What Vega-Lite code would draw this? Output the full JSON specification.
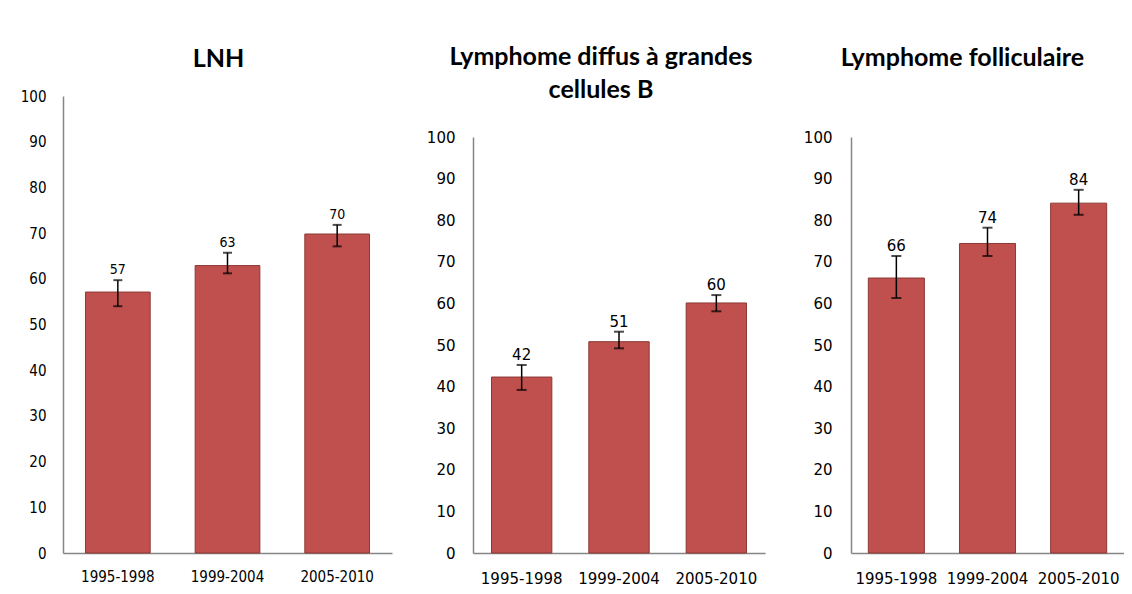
{
  "$schema": "https://vega.github.io/schema/vega-lite/v6.json",
  "padding": {"left": 13, "top": 45, "right": 0, "bottom": 0},
  "background": "white",
  "spacing": 0,
  "center": true,
  "config": {
    "view": {"stroke": null},
    "axis": {"grid": false, "ticks": false, "title": null, "domainColor": "#868686", "domainWidth": 1.5, "labelColor": "#000000"},
    "title": {"font": "Lato", "fontWeight": "bold", "fontSize": 25, "color": "#000000"}
  },
  "datasets": {
    "lnh": [
      {"period": "1995-1998", "value": 57.1, "lo": 54.0, "hi": 59.7},
      {"period": "1999-2004", "value": 62.9, "lo": 61.2, "hi": 65.7},
      {"period": "2005-2010", "value": 69.8, "lo": 67.1, "hi": 71.8}
    ],
    "ldgcb": [
      {"period": "1995-1998", "value": 42.3, "lo": 39.2, "hi": 45.2},
      {"period": "1999-2004", "value": 50.8, "lo": 49.2, "hi": 53.2},
      {"period": "2005-2010", "value": 60.1, "lo": 58.1, "hi": 62.0}
    ],
    "lf": [
      {"period": "1995-1998", "value": 66.1, "lo": 61.3, "hi": 71.4},
      {"period": "1999-2004", "value": 74.4, "lo": 71.4, "hi": 78.2},
      {"period": "2005-2010", "value": 84.1, "lo": 81.3, "hi": 87.3}
    ]
  },
  "hconcat": [
    {
      "width": 329, "height": 457,
      "title": {"text": "LNH", "offset": 17, "frame": "group", "dx": -9},
      "data": {"name": "lnh"},
      "encoding": {
        "x": {"field": "period", "type": "nominal", "sort": null,
              "scale": {"paddingInner": 0.41, "paddingOuter": 0.205},
              "axis": {"labelAngle": 0, "labelFont": "DejaVu Sans Condensed", "labelFontSize": 15, "labelPadding": 16, "minExtent": 76, "maxExtent": 76}}
      },
      "layer": [
        {"mark": {"type": "bar", "fill": "#C0504D", "stroke": "#8C3836", "strokeWidth": 1},
         "encoding": {"y": {"field": "value", "type": "quantitative", "scale": {"domain": [0, 100], "nice": false},
           "axis": {"values": [0,10,20,30,40,50,60,70,80,90,100], "labelFont": "DejaVu Sans Condensed", "labelFontSize": 15, "labelPadding": 17, "minExtent": 50, "maxExtent": 50}}}},
        {"mark": {"type": "rule", "strokeWidth": 1.5, "color": "#000000"},
         "encoding": {"y": {"field": "lo", "type": "quantitative"}, "y2": {"field": "hi"}}},
        {"mark": {"type": "tick", "thickness": 2, "size": 9, "color": "#000000"},
         "encoding": {"y": {"field": "lo", "type": "quantitative"}}},
        {"mark": {"type": "tick", "thickness": 2, "size": 9, "color": "#000000"},
         "encoding": {"y": {"field": "hi", "type": "quantitative"}}},
        {"mark": {"type": "text", "baseline": "alphabetic", "dy": -6, "font": "DejaVu Sans Condensed", "fontSize": 14, "color": "#000000"},
         "encoding": {"y": {"field": "hi", "type": "quantitative"}, "text": {"field": "value", "type": "quantitative", "format": ".0f"}}}
      ]
    },
    {
      "width": 292, "height": 416,
      "title": {"text": ["Lymphome diffus à grandes", "cellules B"], "lineHeight": 33, "offset": 27, "frame": "group", "dx": -18},
      "data": {"name": "ldgcb"},
      "encoding": {
        "x": {"field": "period", "type": "nominal", "sort": null,
              "scale": {"paddingInner": 0.38, "paddingOuter": 0.19},
              "axis": {"labelAngle": 0, "labelFont": "DejaVu Sans", "labelFontSize": 15, "labelPadding": 18, "minExtent": 35, "maxExtent": 35}}
      },
      "layer": [
        {"mark": {"type": "bar", "fill": "#C0504D", "stroke": "#8C3836", "strokeWidth": 1},
         "encoding": {"y": {"field": "value", "type": "quantitative", "scale": {"domain": [0, 100], "nice": false},
           "axis": {"values": [0,10,20,30,40,50,60,70,80,90,100], "labelFont": "DejaVu Sans", "labelFontSize": 15, "labelPadding": 18, "minExtent": 81, "maxExtent": 81}}}},
        {"mark": {"type": "rule", "strokeWidth": 1.5, "color": "#000000"},
         "encoding": {"y": {"field": "lo", "type": "quantitative"}, "y2": {"field": "hi"}}},
        {"mark": {"type": "tick", "thickness": 2, "size": 10, "color": "#000000"},
         "encoding": {"y": {"field": "lo", "type": "quantitative"}}},
        {"mark": {"type": "tick", "thickness": 2, "size": 10, "color": "#000000"},
         "encoding": {"y": {"field": "hi", "type": "quantitative"}}},
        {"mark": {"type": "text", "baseline": "alphabetic", "dy": -5, "font": "DejaVu Sans", "fontSize": 15, "color": "#000000"},
         "encoding": {"y": {"field": "hi", "type": "quantitative"}, "text": {"field": "value", "type": "quantitative", "format": ".0f"}}}
      ]
    },
    {
      "width": 273, "height": 416,
      "title": {"text": "Lymphome folliculaire", "offset": 59, "frame": "group", "dx": -25},
      "data": {"name": "lf"},
      "encoding": {
        "x": {"field": "period", "type": "nominal", "sort": null,
              "scale": {"paddingInner": 0.385, "paddingOuter": 0.19},
              "axis": {"labelAngle": 0, "labelFont": "DejaVu Sans", "labelFontSize": 15, "labelPadding": 18, "minExtent": 35, "maxExtent": 35}}
      },
      "layer": [
        {"mark": {"type": "bar", "fill": "#C0504D", "stroke": "#8C3836", "strokeWidth": 1},
         "encoding": {"y": {"field": "value", "type": "quantitative", "scale": {"domain": [0, 100], "nice": false},
           "axis": {"values": [0,10,20,30,40,50,60,70,80,90,100], "labelFont": "DejaVu Sans", "labelFontSize": 15, "labelPadding": 19, "minExtent": 86, "maxExtent": 86}}}},
        {"mark": {"type": "rule", "strokeWidth": 1.5, "color": "#000000"},
         "encoding": {"y": {"field": "lo", "type": "quantitative"}, "y2": {"field": "hi"}}},
        {"mark": {"type": "tick", "thickness": 2, "size": 10, "color": "#000000"},
         "encoding": {"y": {"field": "lo", "type": "quantitative"}}},
        {"mark": {"type": "tick", "thickness": 2, "size": 10, "color": "#000000"},
         "encoding": {"y": {"field": "hi", "type": "quantitative"}}},
        {"mark": {"type": "text", "baseline": "alphabetic", "dy": -5, "font": "DejaVu Sans", "fontSize": 15, "color": "#000000"},
         "encoding": {"y": {"field": "hi", "type": "quantitative"}, "text": {"field": "value", "type": "quantitative", "format": ".0f"}}}
      ]
    }
  ]
}
